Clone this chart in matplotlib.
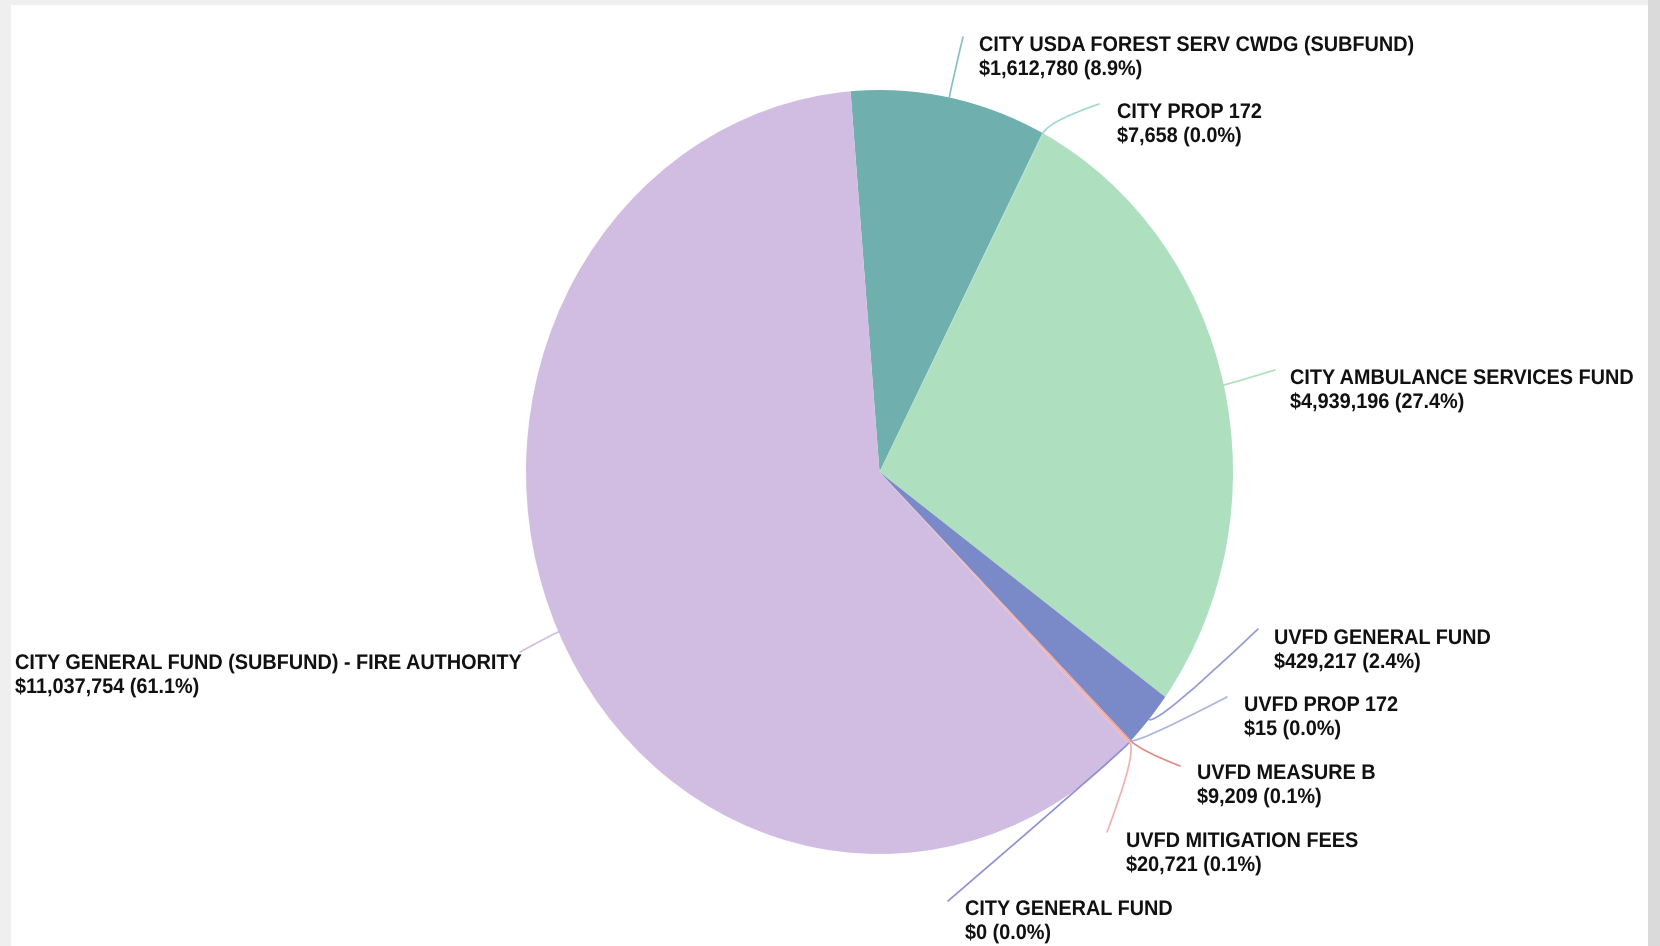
import matplotlib.pyplot as plt
from matplotlib.patches import Rectangle, PathPatch
from matplotlib.patheffects import AbstractPathEffect
from matplotlib.transforms import Affine2D
from matplotlib.path import Path
import numpy as np

# Fire / EMS funding sources (clockwise from the top)
funds = [
    "CITY USDA FOREST SERV CWDG (SUBFUND)",
    "CITY PROP 172",
    "CITY AMBULANCE SERVICES FUND",
    "UVFD GENERAL FUND",
    "UVFD PROP 172",
    "UVFD MEASURE B",
    "UVFD MITIGATION FEES",
    "CITY GENERAL FUND",
    "CITY GENERAL FUND (SUBFUND) - FIRE AUTHORITY",
]
amounts = [1612780, 7658, 4939196, 429217, 15, 9209, 20721, 0, 11037754]

slice_colors = ["#6fb0ae", "#9fd8d0", "#aedfbe", "#7a89c8", "#aab4e2",
                "#e08a8a", "#f2b3b3", "#8e8fd2", "#d1bde2"]
line_colors = ["#86c0bd", "#9fd8d0", "#aedfbe", "#8f9bd2", "#aab4e2",
               "#e08a8a", "#f0b0b0", "#8e8fd2", "#d1bde2"]

# label layout in pixels: text left edge, first baseline, leader end point, radial stub
text_x = [979, 1117, 1290, 1274, 1244, 1197, 1126, 965, 15]
text_base = [51, 118, 384, 644, 711, 779, 847, 915, 669]
leader_end = [(963, 37), (1099, 104), (1275, 370), (1258, 629), (1227, 697),
              (1180, 766), (1107, 832), (948, 901), (520, 652)]
leader_stub = [22, 14, 8, 10, 6, 14, 12, 2, 10]

W, H = 1660, 946
CX, CY, RX, RY = 879.5, 472.0, 353.5, 382.0


def to_data(px, py):
    return (px - CX) / RX, (CY - py) / RY


class Narrow(AbstractPathEffect):
    """Squeeze glyphs horizontally about the text's left edge."""

    def __init__(self, x0, factor):
        super().__init__()
        self.x0 = x0
        self.factor = factor

    def draw_path(self, renderer, gc, tpath, affine, rgbFace=None):
        squeeze = Affine2D().translate(-self.x0, 0).scale(self.factor, 1).translate(self.x0, 0)
        renderer.draw_path(gc, tpath, affine + squeeze, rgbFace)


fig = plt.figure(figsize=(W / 100, H / 100), dpi=100)
fig.patch.set_facecolor("#efefef")
fig.patches.append(Rectangle((1648 / W, 0), 12 / W, 1, transform=fig.transFigure,
                             facecolor="#dadada", edgecolor="none", zorder=-2))
fig.patches.append(Rectangle((11 / W, 0), (1648 - 11) / W, (H - 5) / H,
                             transform=fig.transFigure, facecolor="white",
                             edgecolor="none", zorder=-1))

ax = fig.add_axes([0, 0, 1, 1])
ax.set_facecolor("none")
wedges, _ = ax.pie(amounts, colors=slice_colors, startangle=94.7, counterclock=False,
                   radius=1, center=(0, 0), wedgeprops=dict(linewidth=0))
ax.set_aspect("auto")
ax.set_xlim((0 - CX) / RX, (W - CX) / RX)
ax.set_ylim((CY - H) / RY, (CY - 0) / RY)
ax.axis("off")

total = sum(amounts)
font = dict(fontsize=15.2, fontweight="bold", color="#111111",
            family=["Liberation Sans", "DejaVu Sans"])

for i, w in enumerate(wedges):
    mid = np.deg2rad((w.theta1 + w.theta2) / 2)
    # point on the rim in pixel space
    ex, ey = CX + RX * np.cos(mid), CY - RY * np.sin(mid)
    dx, dy = np.cos(mid), -np.sin(mid)
    cx, cy = ex + leader_stub[i] * dx, ey + leader_stub[i] * dy
    fx, fy = leader_end[i]
    verts = [to_data(ex, ey), to_data(cx, cy), to_data(fx, fy)]
    path = Path(verts, [Path.MOVETO, Path.CURVE3, Path.CURVE3])
    ax.add_patch(PathPatch(path, fill=False, edgecolor=line_colors[i],
                           linewidth=1.2, capstyle="round"))

    pct = amounts[i] / total * 100
    squeeze = [Narrow(text_x[i], 0.94)]
    ax.text(*to_data(text_x[i], text_base[i]), funds[i], ha="left", va="baseline",
            path_effects=squeeze, **font)
    ax.text(*to_data(text_x[i], text_base[i] + 24), f"${amounts[i]:,.0f} ({pct:.1f}%)",
            ha="left", va="baseline", path_effects=squeeze, **font)

fig.savefig("out.png", dpi=100, facecolor=fig.get_facecolor())
